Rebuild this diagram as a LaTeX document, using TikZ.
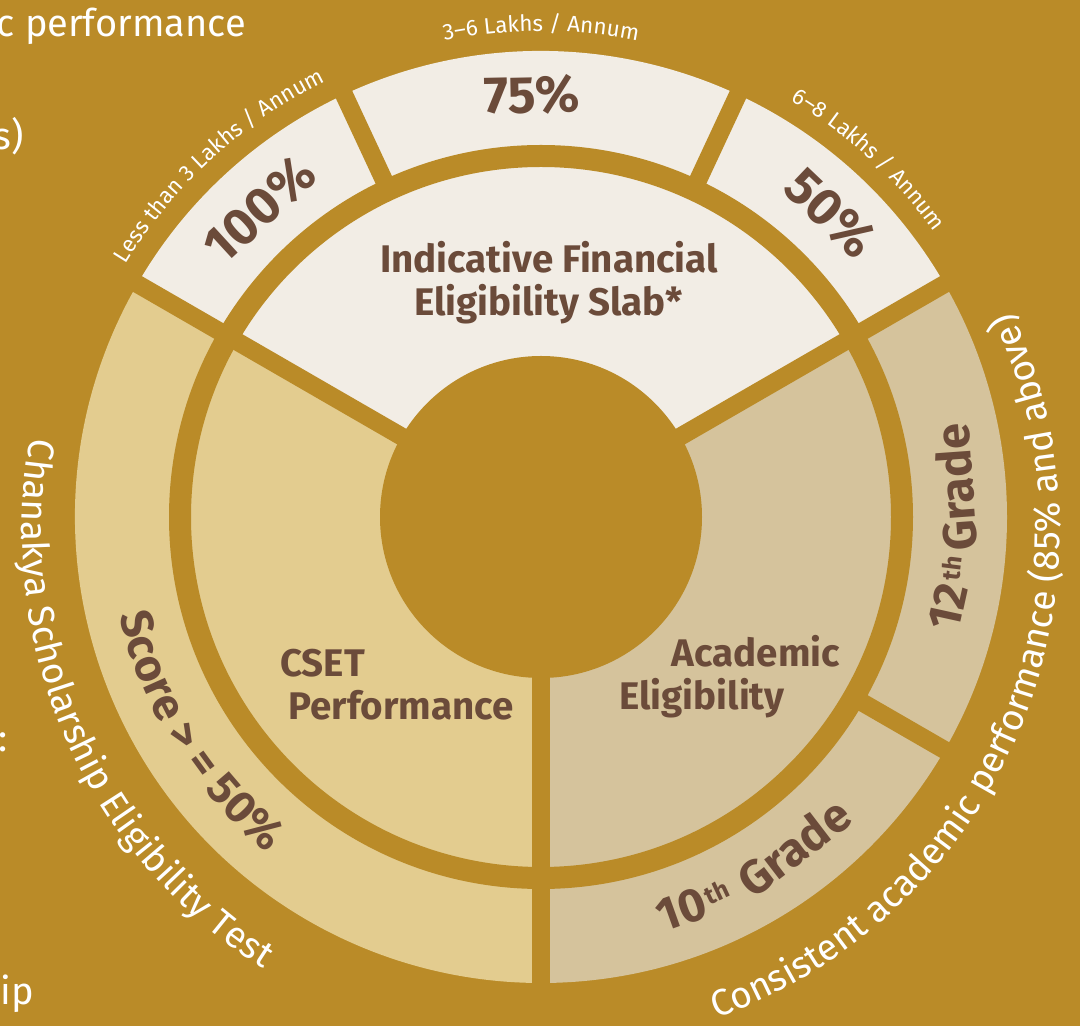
\documentclass[tikz,border=0pt]{standalone}
\usepackage{fontspec}
\setmainfont{Fira Sans}
\usetikzlibrary{decorations.text}
\definecolor{kgold}{HTML}{BA8B28}
\definecolor{kcream}{HTML}{F2EDE5}
\definecolor{ksand}{HTML}{E3CC8F}
\definecolor{kbeige}{HTML}{D5C39C}
\definecolor{kbrown}{HTML}{6B4B3A}
\begin{document}
\begin{tikzpicture}[x=1pt,y=1pt,
  gapline/.style={draw=kgold,line width=18pt},
  midlabel/.style={text=kbrown,font=\bfseries\fontsize{38.5}{38.5}\selectfont,inner sep=0pt,anchor=base},
  pctlabel/.style={text=kbrown,font=\bfseries\fontsize{52}{52}\selectfont,inner sep=0pt},
  seglabel/.style={text=kbrown,font=\bfseries\fontsize{47}{47}\selectfont,inner sep=0pt},
  suplabel/.style={text=kbrown,font=\bfseries\fontsize{25}{25}\selectfont,inner sep=0pt},
  edgelabel/.style={text=white,font=\fontsize{38}{38}\selectfont,inner sep=0pt,anchor=base east}]
\pgfmathsetmacro{\krcore}{161}
\pgfmathsetmacro{\krin}{350}
\pgfmathsetmacro{\krgap}{361}
\pgfmathsetmacro{\krout}{466}
\pgfmathsetmacro{\krlab}{433}
\useasboundingbox (0,0) rectangle (1080,1026);
\fill[kgold] (0,0) rectangle (1080,1026);
\node[edgelabel] (lt1) at (246,989) {c performance};
\node[edgelabel] (lt2) at (24,876) {s)};
\node[edgelabel] (lt3) at (8,274) {:};
\node[edgelabel] (lt4) at (34,21) {ip};
\begin{scope}[shift={(541,509)}]
\foreach \ka/\kb/\kc in {30/150/kcream,150/270/ksand,270/390/kbeige}{
  \fill[\kc] (0,0)--(\ka:\krout pt) arc[start angle=\ka,end angle=\kb,radius=\krout pt]--cycle;}
\draw[kgold,line width=22pt] (0,0) circle[radius=\krgap pt];
\foreach \ka in {30,150,270}{\draw[gapline] (0,0)--(\ka:472pt);}
\foreach \ka in {115,65,-30}{\draw[gapline] (\ka:\krgap pt)--(\ka:472pt);}
\fill[kgold] (0,0) circle[radius=\krcore pt];
\node[midlabel] (fin1) at (8,244) {Indicative Financial};
\node[midlabel] (fin2) at (7.5,201) {Eligibility Slab*};
\node[midlabel] (cset1) at (-218.5,-160) {CSET};
\node[midlabel] (cset2) at (-140,-203) {Performance};
\node[midlabel] (acad1) at (215,-150) {Academic};
\node[midlabel] (acad2) at (161,-193) {Eligibility};
\foreach \ka/\kr/\klb/\kname in {132.5/417/100/p100,91.2/422/75/p75,46.4/420/50/p50}{
  \node[pctlabel,rotate=\ka-90] (\kname) at (\ka:\kr pt) {\klb\%};}
\foreach \ka/\kr/\ks/\klb/\kname in {-12.4/433/seglabel/12/tw1,-7.1/423/suplabel/th/tw2,4.1/433/seglabel/Grade/tw3,
  -70.3/433/seglabel/10/te1,-64.9/423/suplabel/th/te2,-52.6/433/seglabel/Grade/te3}{
  \node[\ks,anchor=base,rotate=\ka+90] (\kname) at (\ka:\kr pt) {\klb};}
\path[decorate,decoration={text along path,text align=center,text color=kbrown,
  text={|\bfseries\fontsize{45}{45}\selectfont|Score > = 50{\%}}}]
  (170:\krlab pt) arc[start angle=170,end angle=254,radius=\krlab pt];
\path[decorate,decoration={text along path,text align=center,text color=white,
  text={|\fontsize{22.5}{22.5}\selectfont|Less than 3 Lakhs / Annum}}]
  (160:486pt) arc[start angle=160,end angle=105,radius=486pt];
\path[decorate,decoration={text along path,text align=center,text color=white,
  text={|\fontsize{22.5}{22.5}\selectfont|3–6 Lakhs / Annum}}]
  (117:486pt) arc[start angle=117,end angle=63,radius=486pt];
\path[decorate,decoration={text along path,text align=center,text color=white,
  text={|\fontsize{22.5}{22.5}\selectfont|6–8 Lakhs / Annum}}]
  (75:486pt) arc[start angle=75,end angle=20,radius=486pt];
\begin{scope}[shift={(0,-13)}]
\path[decorate,decoration={text along path,text align=center,text color=white,
  text={|\fontsize{37}{37}\selectfont|Chanakya Scholarship Eligibility Test}}]
  (150:519pt) arc[start angle=150,end angle=257.4,radius=519pt];
\path[decorate,decoration={text along path,text align=center,text color=white,
  text={|\fontsize{37}{37}\selectfont|Consistent academic performance (85{\%} and above)}}]
  (-85:519pt) arc[start angle=-85,end angle=39.6,radius=519pt];
\end{scope}
\end{scope}
\end{tikzpicture}
\end{document}
